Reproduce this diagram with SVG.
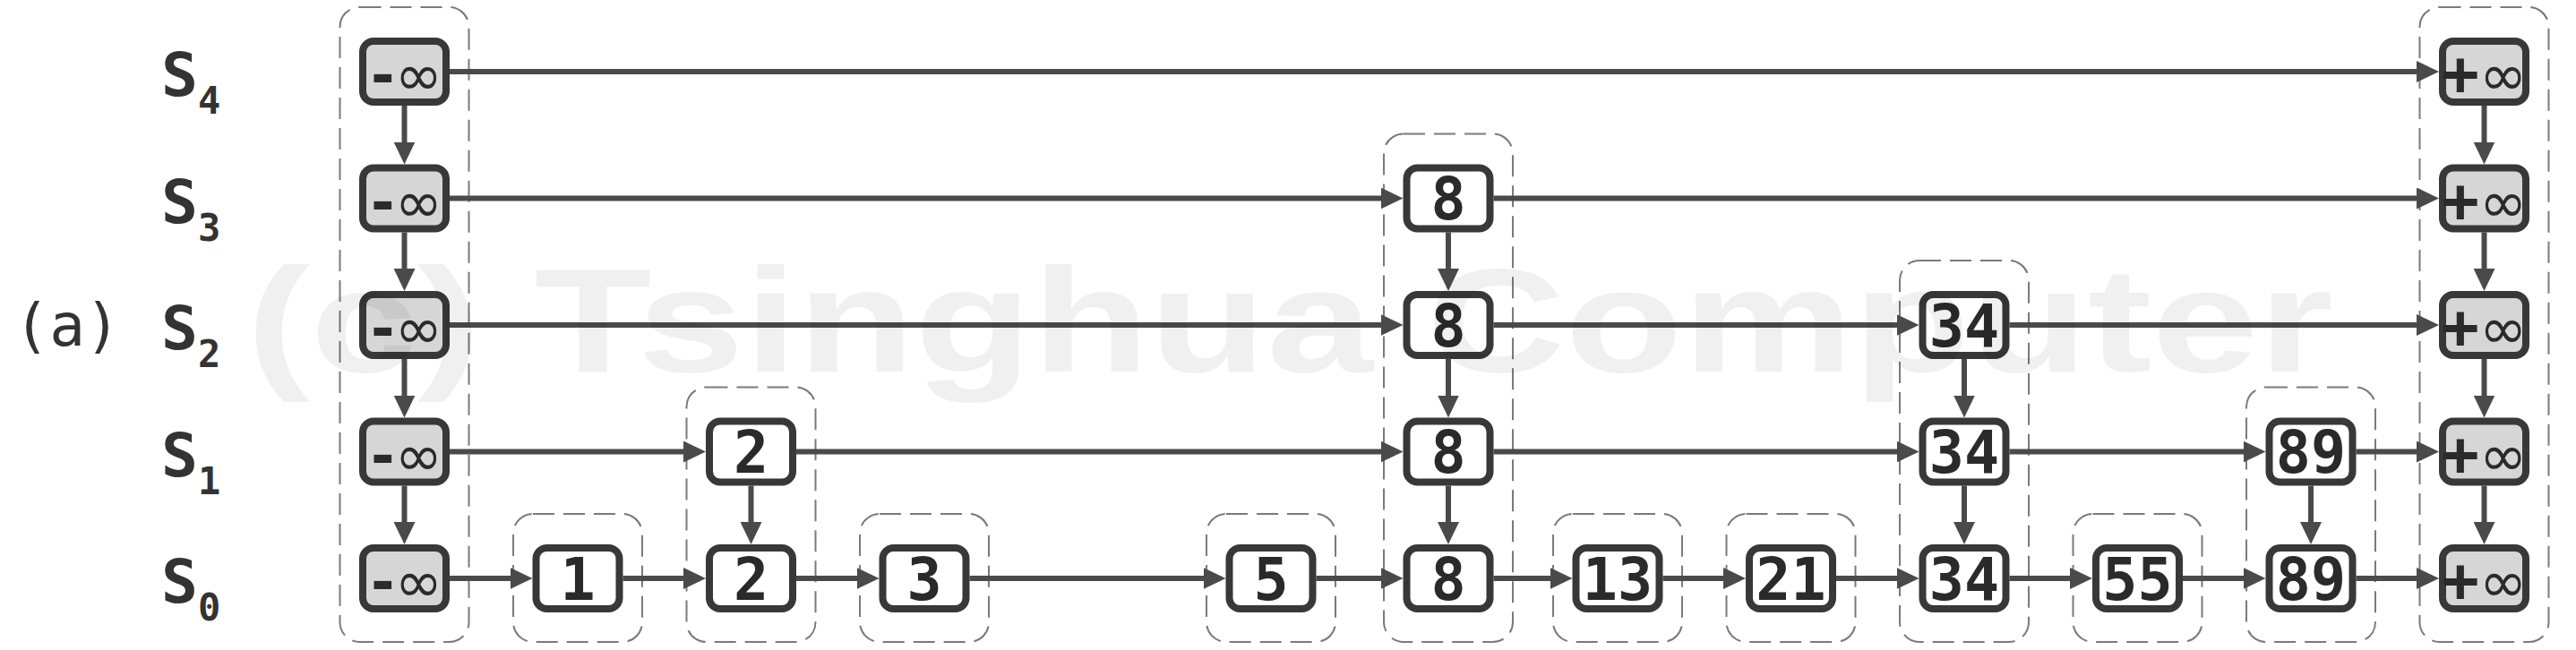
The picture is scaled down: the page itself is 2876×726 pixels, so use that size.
<svg xmlns="http://www.w3.org/2000/svg" width="2876" height="726" viewBox="0 0 2876 726">
<defs>
<marker id="ah" viewBox="0 0 25 24" refX="13" refY="12" markerWidth="25" markerHeight="24" markerUnits="userSpaceOnUse" orient="auto"><path d="M0,0 L25,12 L0,24 z" fill="#4a4a4a"/></marker>
</defs>
<style>
.grp{fill:none;stroke:#7a7a7a;stroke-width:2;stroke-dasharray:24 10}
.nd{fill:#ffffff;stroke:#383838;stroke-width:8}
.inf{fill:#d6d6d6}
.num{font-family:"DejaVu Sans Mono","Liberation Mono",monospace;font-weight:bold;font-size:65px;fill:#2a2a2a;text-anchor:middle}
.neg{font-family:"DejaVu Sans","Liberation Sans",sans-serif;font-weight:bold;font-size:64px;fill:#2a2a2a}
.pos{font-family:"DejaVu Sans Mono","Liberation Mono",monospace;font-weight:bold;font-size:70px;fill:#2a2a2a}
.oo{font-family:"DejaVu Sans","Liberation Sans",sans-serif;font-weight:normal;font-size:64px;fill:#2a2a2a}
.ln{stroke:#4a4a4a;stroke-width:6;fill:none;marker-end:url(#ah)}
.lbl{font-family:"DejaVu Sans Mono","Liberation Mono",monospace;font-weight:bold;font-size:68px;fill:#333333}
.sub{font-size:42px}
.wm{font-family:"Liberation Sans",Arial,sans-serif;font-weight:bold;font-size:165px;fill:#000000;fill-opacity:0.06}
</style>

<g id="labels">
<text class="lbl" x="180" y="107">S<tspan class="sub" dy="20">4</tspan></text>
<text class="lbl" x="180" y="248.5">S<tspan class="sub" dy="20">3</tspan></text>
<text class="lbl" x="180" y="390">S<tspan class="sub" dy="20">2</tspan></text>
<text class="lbl" x="180" y="531.5">S<tspan class="sub" dy="20">1</tspan></text>
<text class="lbl" x="180" y="673">S<tspan class="sub" dy="20">0</tspan></text>
<text x="75" y="386" font-family="DejaVu Sans Mono, Liberation Mono, monospace" font-size="66" fill="#333333" text-anchor="middle">(a)</text>
</g>

<g id="groups">
<rect class="grp" x="379.5" y="8" width="144" height="709" rx="22"/>
<rect class="grp" x="573" y="574" width="144" height="143" rx="22"/>
<rect class="grp" x="766.5" y="432.5" width="144" height="284.5" rx="22"/>
<rect class="grp" x="960" y="574" width="144" height="143" rx="22"/>
<rect class="grp" x="1347" y="574" width="144" height="143" rx="22"/>
<rect class="grp" x="1545" y="149.5" width="144" height="567.5" rx="22"/>
<rect class="grp" x="1734" y="574" width="144" height="143" rx="22"/>
<rect class="grp" x="1927.5" y="574" width="144" height="143" rx="22"/>
<rect class="grp" x="2121" y="291" width="144" height="426" rx="22"/>
<rect class="grp" x="2314.5" y="574" width="144" height="143" rx="22"/>
<rect class="grp" x="2508" y="432.5" width="144" height="284.5" rx="22"/>
<rect class="grp" x="2701.5" y="8" width="144" height="709" rx="22"/>
</g>

<g id="connectors">
<line class="ln" x1="502" y1="80" x2="2711" y2="80"/>
<line class="ln" x1="502" y1="221.5" x2="1554.5" y2="221.5"/>
<line class="ln" x1="1667.5" y1="221.5" x2="2711" y2="221.5"/>
<line class="ln" x1="502" y1="363" x2="1554.5" y2="363"/>
<line class="ln" x1="1667.5" y1="363" x2="2130.5" y2="363"/>
<line class="ln" x1="2243.5" y1="363" x2="2711" y2="363"/>
<line class="ln" x1="502" y1="504.5" x2="776" y2="504.5"/>
<line class="ln" x1="889" y1="504.5" x2="1554.5" y2="504.5"/>
<line class="ln" x1="1667.5" y1="504.5" x2="2130.5" y2="504.5"/>
<line class="ln" x1="2243.5" y1="504.5" x2="2517.5" y2="504.5"/>
<line class="ln" x1="2630.5" y1="504.5" x2="2711" y2="504.5"/>
<line class="ln" x1="502" y1="646" x2="582.5" y2="646"/>
<line class="ln" x1="695.5" y1="646" x2="776" y2="646"/>
<line class="ln" x1="889" y1="646" x2="969.5" y2="646"/>
<line class="ln" x1="1082.5" y1="646" x2="1356.5" y2="646"/>
<line class="ln" x1="1469.5" y1="646" x2="1554.5" y2="646"/>
<line class="ln" x1="1667.5" y1="646" x2="1743.5" y2="646"/>
<line class="ln" x1="1856.5" y1="646" x2="1937" y2="646"/>
<line class="ln" x1="2050" y1="646" x2="2130.5" y2="646"/>
<line class="ln" x1="2243.5" y1="646" x2="2324" y2="646"/>
<line class="ln" x1="2437" y1="646" x2="2517.5" y2="646"/>
<line class="ln" x1="2630.5" y1="646" x2="2711" y2="646"/>
<line class="ln" x1="451.5" y1="118" x2="451.5" y2="171.5"/>
<line class="ln" x1="451.5" y1="259.5" x2="451.5" y2="313"/>
<line class="ln" x1="451.5" y1="401" x2="451.5" y2="454.5"/>
<line class="ln" x1="451.5" y1="542.5" x2="451.5" y2="596"/>
<line class="ln" x1="838.5" y1="542.5" x2="838.5" y2="596"/>
<line class="ln" x1="1617" y1="259.5" x2="1617" y2="313"/>
<line class="ln" x1="1617" y1="401" x2="1617" y2="454.5"/>
<line class="ln" x1="1617" y1="542.5" x2="1617" y2="596"/>
<line class="ln" x1="2193" y1="401" x2="2193" y2="454.5"/>
<line class="ln" x1="2193" y1="542.5" x2="2193" y2="596"/>
<line class="ln" x1="2580" y1="542.5" x2="2580" y2="596"/>
<line class="ln" x1="2773.5" y1="118" x2="2773.5" y2="171.5"/>
<line class="ln" x1="2773.5" y1="259.5" x2="2773.5" y2="313"/>
<line class="ln" x1="2773.5" y1="401" x2="2773.5" y2="454.5"/>
<line class="ln" x1="2773.5" y1="542.5" x2="2773.5" y2="596"/>
</g>

<g id="col-neg-inf">
<rect class="nd inf" x="405" y="46" width="93" height="68" rx="12"/>
<text x="454" y="106" text-anchor="middle"><tspan class="neg">-</tspan><tspan class="oo">∞</tspan></text>
<rect class="nd inf" x="405" y="187.5" width="93" height="68" rx="12"/>
<text x="454" y="247.5" text-anchor="middle"><tspan class="neg">-</tspan><tspan class="oo">∞</tspan></text>
<rect class="nd inf" x="405" y="329" width="93" height="68" rx="12"/>
<text x="454" y="389" text-anchor="middle"><tspan class="neg">-</tspan><tspan class="oo">∞</tspan></text>
<rect class="nd inf" x="405" y="470.5" width="93" height="68" rx="12"/>
<text x="454" y="530.5" text-anchor="middle"><tspan class="neg">-</tspan><tspan class="oo">∞</tspan></text>
<rect class="nd inf" x="405" y="612" width="93" height="68" rx="12"/>
<text x="454" y="672" text-anchor="middle"><tspan class="neg">-</tspan><tspan class="oo">∞</tspan></text>
</g>

<g id="col-1">
<rect class="nd" x="598.5" y="612" width="93" height="68" rx="12"/>
<text class="num" x="645" y="669.5">1</text>
</g>

<g id="col-2">
<rect class="nd" x="792" y="470.5" width="93" height="68" rx="12"/>
<text class="num" x="838.5" y="528">2</text>
<rect class="nd" x="792" y="612" width="93" height="68" rx="12"/>
<text class="num" x="838.5" y="669.5">2</text>
</g>

<g id="col-3">
<rect class="nd" x="985.5" y="612" width="93" height="68" rx="12"/>
<text class="num" x="1032" y="669.5">3</text>
</g>

<g id="col-5">
<rect class="nd" x="1372.5" y="612" width="93" height="68" rx="12"/>
<text class="num" x="1419" y="669.5">5</text>
</g>

<g id="col-8">
<rect class="nd" x="1570.5" y="187.5" width="93" height="68" rx="12"/>
<text class="num" x="1617" y="245">8</text>
<rect class="nd" x="1570.5" y="329" width="93" height="68" rx="12"/>
<text class="num" x="1617" y="386.5">8</text>
<rect class="nd" x="1570.5" y="470.5" width="93" height="68" rx="12"/>
<text class="num" x="1617" y="528">8</text>
<rect class="nd" x="1570.5" y="612" width="93" height="68" rx="12"/>
<text class="num" x="1617" y="669.5">8</text>
</g>

<g id="col-13">
<rect class="nd" x="1759.5" y="612" width="93" height="68" rx="12"/>
<text class="num" x="1806" y="669.5">13</text>
</g>

<g id="col-21">
<rect class="nd" x="1953" y="612" width="93" height="68" rx="12"/>
<text class="num" x="1999.5" y="669.5">21</text>
</g>

<g id="col-34">
<rect class="nd" x="2146.5" y="329" width="93" height="68" rx="12"/>
<text class="num" x="2193" y="386.5">34</text>
<rect class="nd" x="2146.5" y="470.5" width="93" height="68" rx="12"/>
<text class="num" x="2193" y="528">34</text>
<rect class="nd" x="2146.5" y="612" width="93" height="68" rx="12"/>
<text class="num" x="2193" y="669.5">34</text>
</g>

<g id="col-55">
<rect class="nd" x="2340" y="612" width="93" height="68" rx="12"/>
<text class="num" x="2386.5" y="669.5">55</text>
</g>

<g id="col-89">
<rect class="nd" x="2533.5" y="470.5" width="93" height="68" rx="12"/>
<text class="num" x="2580" y="528">89</text>
<rect class="nd" x="2533.5" y="612" width="93" height="68" rx="12"/>
<text class="num" x="2580" y="669.5">89</text>
</g>

<g id="col-pos-inf">
<rect class="nd inf" x="2727" y="46" width="93" height="68" rx="12"/>
<text x="2773.5" y="106" text-anchor="middle"><tspan class="pos">+</tspan><tspan class="oo">∞</tspan></text>
<rect class="nd inf" x="2727" y="187.5" width="93" height="68" rx="12"/>
<text x="2773.5" y="247.5" text-anchor="middle"><tspan class="pos">+</tspan><tspan class="oo">∞</tspan></text>
<rect class="nd inf" x="2727" y="329" width="93" height="68" rx="12"/>
<text x="2773.5" y="389" text-anchor="middle"><tspan class="pos">+</tspan><tspan class="oo">∞</tspan></text>
<rect class="nd inf" x="2727" y="470.5" width="93" height="68" rx="12"/>
<text x="2773.5" y="530.5" text-anchor="middle"><tspan class="pos">+</tspan><tspan class="oo">∞</tspan></text>
<rect class="nd inf" x="2727" y="612" width="93" height="68" rx="12"/>
<text x="2773.5" y="672" text-anchor="middle"><tspan class="pos">+</tspan><tspan class="oo">∞</tspan></text>
</g>

<g id="watermark">
<text class="wm" x="275" y="415" textLength="2330" lengthAdjust="spacingAndGlyphs">(c) Tsinghua Computer</text>
</g>
</svg>
